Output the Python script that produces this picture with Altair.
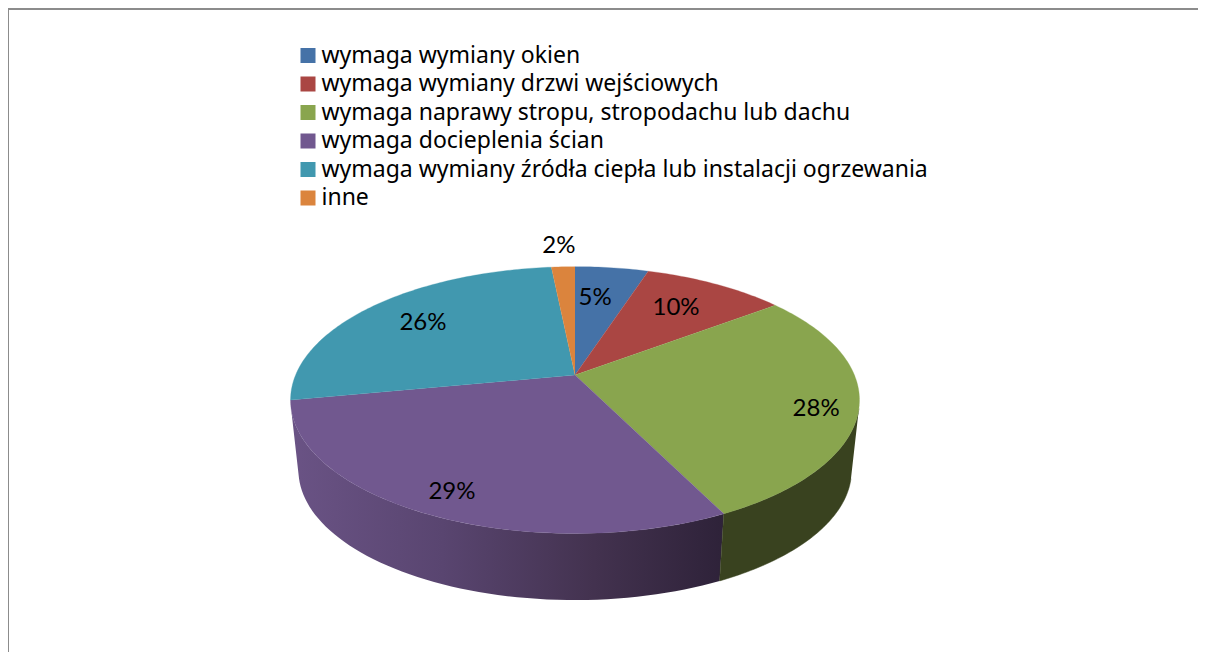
import numpy as np
import pandas as pd
import altair as alt

categories = ["wymaga wymiany okien", "wymaga wymiany drzwi wejściowych",
              "wymaga naprawy stropu, stropodachu lub dachu", "wymaga docieplenia ścian",
              "wymaga wymiany źródła ciepła lub instalacji ogrzewania", "inne"]
values = [5.0, 9.7, 28.0, 29.3, 26.4, 1.6]
labels = ["5%", "10%", "28%", "29%", "26%", "2%"]
colors = ["#4572a7", "#aa4643", "#89a54e", "#71588f", "#4198af", "#db843d"]

# layout: page pixels of the drawn pie (perspective disc)
W, H = 1190, 644
OX, OY = 8, 8
CX, CY, K, A, C = 575.0, 375.0, 279.4, 128.7, 0.188
SCALE_LOW, DROP = 0.972, 446.0 - 375.0
SILHOUETTE = 0.29  # pie fraction where the rim's outline touches the side wall
label_uv = [(0.081, 0.677), (0.401, 0.579), (0.822, -0.252), (-0.376, -0.778), (-0.589, 0.439), (-0.071, 1.24)]


def project(u, v, low=False):
    d = 1 + C * v
    x, y = K * u / d, -A * v / d
    if low:
        return CX + x * SCALE_LOW - OX, CY + DROP + y * SCALE_LOW - OY
    return CX + x - OX, CY + y - OY


edges = np.concatenate([[0], np.cumsum(values)]) / sum(values)
top_rows, side_rows = [], []
for s, cat in enumerate(categories):
    fr = np.linspace(edges[s], edges[s + 1], max(8, int(values[s] * 4)))
    th = 2 * np.pi * fr
    us, vs = np.sin(th), np.cos(th)
    pts = [project(0, 0)] + [project(u, v) for u, v in zip(us, vs)]
    for i, (x, y) in enumerate(pts):
        top_rows.append(dict(cat=cat, i=i, x=x, y=y))
    # the visible wall only runs between the two silhouette generators
    a, b = max(edges[s], SILHOUETTE), min(edges[s + 1], 1 - SILHOUETTE)
    if a < b:
        th = 2 * np.pi * np.linspace(a, b, 60)
        us, vs = np.sin(th), np.cos(th)
        wall = [project(u, v) for u, v in zip(us, vs)] + [project(u, v, True) for u, v in zip(us[::-1], vs[::-1])]
        for i, (x, y) in enumerate(wall):
            side_rows.append(dict(cat=cat, i=i, x=x, y=y))
top = pd.DataFrame(top_rows)
side = pd.DataFrame(side_rows)

lab = pd.DataFrame([dict(text=t, x=project(*uv)[0], y=project(*uv)[1]) for t, uv in zip(labels, label_uv)])
leg = pd.DataFrame(dict(cat=categories, x=[0.0] * 6, y=[0.0] * 6))

xs = alt.Scale(domain=[0, W], range=[0, W], nice=False, zero=False)
ys = alt.Scale(domain=[0, H], range=[0, H], nice=False, zero=False)
X = alt.X("x:Q", scale=xs, axis=None)
Y = alt.Y("y:Q", scale=ys, axis=None)

purple_grad = alt.LinearGradient(gradient="linear", x1=0, x2=1, y1=0, y2=0, stops=[
    alt.GradientStop(offset=0, color="#6a5385"),
    alt.GradientStop(offset=0.35, color="#594570"),
    alt.GradientStop(offset=0.7, color="#43324f"),
    alt.GradientStop(offset=1, color="#2e2239"),
])

side_green = alt.Chart(side[side.cat == categories[2]]).mark_line(fill="#39421f", stroke="#39421f", strokeWidth=0.5).encode(
    x=X, y=Y, order="i:Q")
side_purple = alt.Chart(side[side.cat == categories[3]]).mark_line(fill=purple_grad, strokeWidth=0).encode(
    x=X, y=Y, order="i:Q")

top_layers = [
    alt.Chart(top[top.cat == c]).mark_line(fill=col, stroke=col, strokeWidth=0.3).encode(x=X, y=Y, order="i:Q")
    for c, col in zip(categories, colors)
]

legend_layer = alt.Chart(leg).mark_square(size=0, opacity=0).encode(
    x=X, y=Y,
    color=alt.Color("cat:N", scale=alt.Scale(domain=categories, range=colors),
                    legend=alt.Legend(title=None, orient="none", legendX=288.5, legendY=33.5, symbolType="square",
                                      symbolSize=225, symbolOpacity=1, symbolStrokeWidth=0, labelFont="Noto Sans", labelFontSize=23,
                                      labelColor="#000000", labelLimit=800, rowPadding=0.5, symbolOffset=0, labelOffset=2,
                                      clipHeight=28)),
)

text_layer = alt.Chart(lab).mark_text(font="Lato", fontSize=24, color="#000000").encode(x=X, y=Y, text="text:N")

frame_top = alt.Chart(pd.DataFrame({"a": [0]})).mark_rule(color="#8c8c8c", strokeWidth=2).encode(
    x=alt.value(0), x2=alt.value(W), y=alt.value(1))
frame_left = alt.Chart(pd.DataFrame({"a": [0]})).mark_rule(color="#8c8c8c", strokeWidth=2).encode(
    x=alt.value(0), y=alt.value(0), y2=alt.value(H))

chart = alt.layer(side_purple, side_green, *top_layers, legend_layer, text_layer, frame_top, frame_left).properties(
    width=W, height=H, padding=0, background="#ffffff", autosize=alt.AutoSizeParams(type="none")
).configure_view(stroke=None)

chart.save("out.html", embed_options={"renderer": "svg", "actions": False})
